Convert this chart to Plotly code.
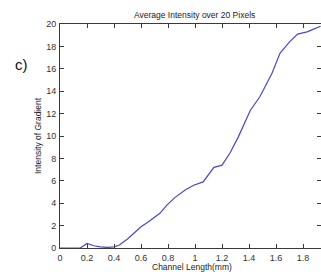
import plotly.graph_objects as go

channel_length_mm = [0.0, 0.05, 0.10, 0.15, 0.20, 0.25, 0.30, 0.35, 0.40, 0.44,
                     0.50, 0.60, 0.65, 0.70, 0.74, 0.79, 0.85, 0.93, 0.99, 1.06,
                     1.10, 1.14, 1.20, 1.26, 1.32, 1.41, 1.48, 1.57, 1.63, 1.70,
                     1.76, 1.83, 1.87, 1.93]
intensity_gradient = [0.0, 0.0, 0.0, 0.0, 0.4, 0.2, 0.1, 0.05, 0.1, 0.27,
                      0.8, 1.9, 2.3, 2.7, 3.1, 3.8, 4.5, 5.2, 5.6, 5.9,
                      6.5, 7.2, 7.4, 8.5, 9.9, 12.3, 13.5, 15.6, 17.4, 18.4,
                      19.1, 19.3, 19.5, 19.8]

title_text = "Average Intensity over 20 Pixels"
x_title = "Channel Length(mm)"
y_title = "Intensity of Gradient"
panel_label = "c)"

L, T, PW, PH = 60, 24, 261, 224

def px_x(p):
    return (p - L) / PW

def px_y(p):
    return (T + PH - p) / PH

font = "Liberation Sans, Arial"

fig = go.Figure()
fig.add_trace(go.Scatter(x=channel_length_mm, y=intensity_gradient, mode="lines",
                         line=dict(color="#4848c8", width=1.2), showlegend=False,
                         cliponaxis=False))

axis_common = dict(showline=True, mirror="ticks", linecolor="#3a3a3a", linewidth=1,
                   ticks="inside", ticklen=4, tickcolor="#3a3a3a", showgrid=False,
                   zeroline=False, automargin=False,
                   tickfont=dict(family=font, size=9, color="#333"))

fig.update_layout(
    width=321, height=272,
    margin=dict(l=L, r=321 - L - PW, t=T, b=272 - T - PH, autoexpand=False),
    paper_bgcolor="white", plot_bgcolor="white",
    xaxis=dict(range=[0, 1.933], tick0=0, dtick=0.2, ticklabelstandoff=1, **axis_common),
    yaxis=dict(range=[0, 20], tick0=0, dtick=2, ticklabelstandoff=1, **axis_common),
    annotations=[
        dict(text=title_text, x=px_x(194), y=px_y(15), xref="paper", yref="paper",
             xanchor="center", yanchor="middle", showarrow=False,
             font=dict(family=font, size=8.5, color="#222")),
        dict(text=x_title, xref="paper", yref="paper", x=px_x(192), y=px_y(267),
             xanchor="center", yanchor="middle", showarrow=False,
             font=dict(family=font, size=8.5, color="#222")),
        dict(text=y_title, xref="paper", yref="paper", x=px_x(38), y=px_y(136),
             textangle=-90, xanchor="center", yanchor="middle", showarrow=False,
             font=dict(family=font, size=8.5, color="#222")),
        dict(text=panel_label, xref="paper", yref="paper", x=px_x(21), y=px_y(64),
             xanchor="center", yanchor="middle", showarrow=False,
             font=dict(family=font, size=15, color="#111")),
    ],
)

fig.write_html("out.html", config={"displayModeBar": False},
               post_script="document.body.style.margin='0';document.body.style.overflow='hidden';")
